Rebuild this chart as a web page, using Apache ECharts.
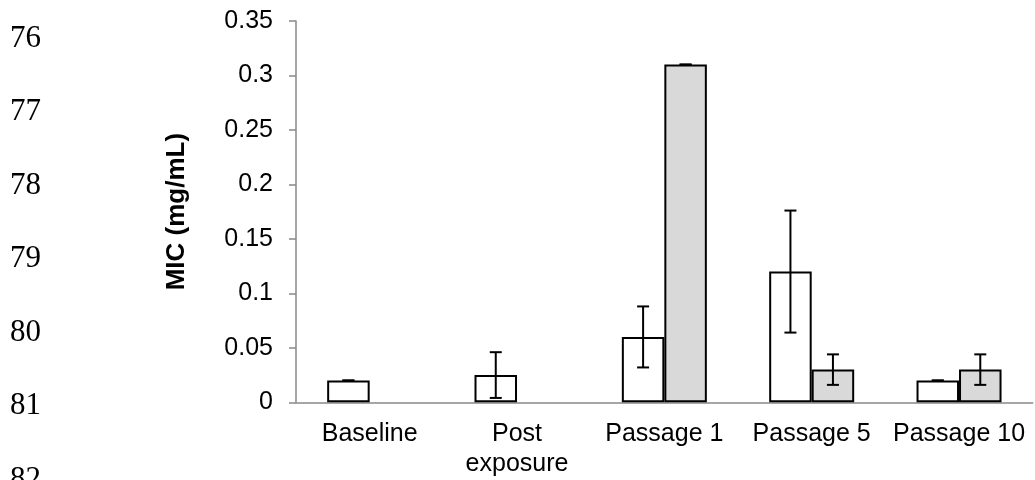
<!DOCTYPE html>
<html>
<head>
<meta charset="utf-8">
<script src="https://cdn.jsdelivr.net/npm/echarts@6/dist/echarts.min.js"></script>
<style>
  html, body { margin: 0; padding: 0; background: #fff; }
  #chart { width: 1035px; height: 480px; }
</style>
</head>
<body>
<div id="chart"></div>
<script>
// categories and values
var categories = ['Baseline', 'Post\nexposure', 'Passage 1', 'Passage 5', 'Passage 10'];
var whiteMeans = [0.02, 0.025, 0.06, 0.12, 0.02];
var whiteErrs  = [0, 0.021, 0.028, 0.056, 0];
var grayMeans  = ['-', '-', 0.31, 0.03, 0.03];
var grayErrs   = [0, 0, 0, 0.014, 0.014];
var lineNumbers = ['76', '77', '78', '79', '80', '81', '82'];

var BAR_W = 42.5;
var AXIS_COLOR = '#898989';
var FONT = '"Liberation Sans", Arial, sans-serif';

// error bar series drawn on the same axes, shifted to sit on its bar
function errorSeries(means, errs, shift) {
    var data = [];
    for (var i = 0; i < means.length; i++) {
        if (means[i] === '-') continue;
        data.push([i, means[i] - errs[i], means[i] + errs[i]]);
    }
    return {
        type: 'custom',
        silent: true,
        z: 10,
        data: data,
        encode: { x: 0, y: [1, 2] },
        renderItem: function (params, api) {
            var lo = api.coord([api.value(0), api.value(1)]);
            var hi = api.coord([api.value(0), api.value(2)]);
            var x = lo[0] + shift;
            var hw = 6;
            var st = { stroke: '#000', lineWidth: 2 };
            return {
                type: 'group',
                children: [
                    { type: 'line', shape: { x1: x, y1: lo[1], x2: x, y2: hi[1] }, style: st },
                    { type: 'line', shape: { x1: x - hw, y1: hi[1], x2: x + hw, y2: hi[1] }, style: st },
                    { type: 'line', shape: { x1: x - hw, y1: lo[1], x2: x + hw, y2: lo[1] }, style: st }
                ]
            };
        }
    };
}

var graphics = [];
for (var k = 0; k < lineNumbers.length; k++) {
    graphics.push({
        type: 'text',
        left: 10,
        top: 23 + k * 73.5,
        style: {
            text: lineNumbers[k],
            fill: '#000',
            font: '31px "Liberation Serif", "Times New Roman", serif'
        }
    });
}

var chart = echarts.init(document.getElementById('chart'));
chart.setOption({
    animation: false,
    backgroundColor: '#fff',
    grid: { left: 296, right: 2.3, top: 21, bottom: 77.7, containLabel: false },
    graphic: graphics,
    xAxis: {
        type: 'category',
        data: categories,
        axisLine: { lineStyle: { color: AXIS_COLOR, width: 1.5 } },
        axisTick: { length: 7, lineStyle: { color: AXIS_COLOR, width: 1.5 } },
        axisLabel: {
            color: '#000',
            fontFamily: FONT,
            fontSize: 25,
            lineHeight: 30,
            margin: 17,
            interval: 0
        },
        splitLine: { show: false }
    },
    yAxis: {
        type: 'value',
        min: 0,
        max: 0.35,
        interval: 0.05,
        name: 'MIC (mg/mL)',
        nameLocation: 'middle',
        nameGap: 106,
        nameTextStyle: { color: '#000', fontFamily: FONT, fontSize: 26, fontWeight: 'bold' },
        axisLine: { show: true, lineStyle: { color: AXIS_COLOR, width: 1.5 } },
        axisTick: { show: true, length: 7, lineStyle: { color: AXIS_COLOR, width: 1.5 } },
        axisLabel: { color: '#000', fontFamily: FONT, fontSize: 25, margin: 23 },
        splitLine: { show: false }
    },
    series: [
        {
            type: 'bar',
            data: whiteMeans,
            barWidth: BAR_W,
            barGap: '0%',
            itemStyle: { color: '#ffffff', borderColor: '#000', borderWidth: 2 }
        },
        {
            type: 'bar',
            data: grayMeans,
            barWidth: BAR_W,
            barGap: '0%',
            itemStyle: { color: '#d9d9d9', borderColor: '#000', borderWidth: 2 }
        },
        errorSeries(whiteMeans, whiteErrs, -BAR_W / 2),
        errorSeries(grayMeans, grayErrs, BAR_W / 2)
    ]
});
</script>
</body>
</html>
